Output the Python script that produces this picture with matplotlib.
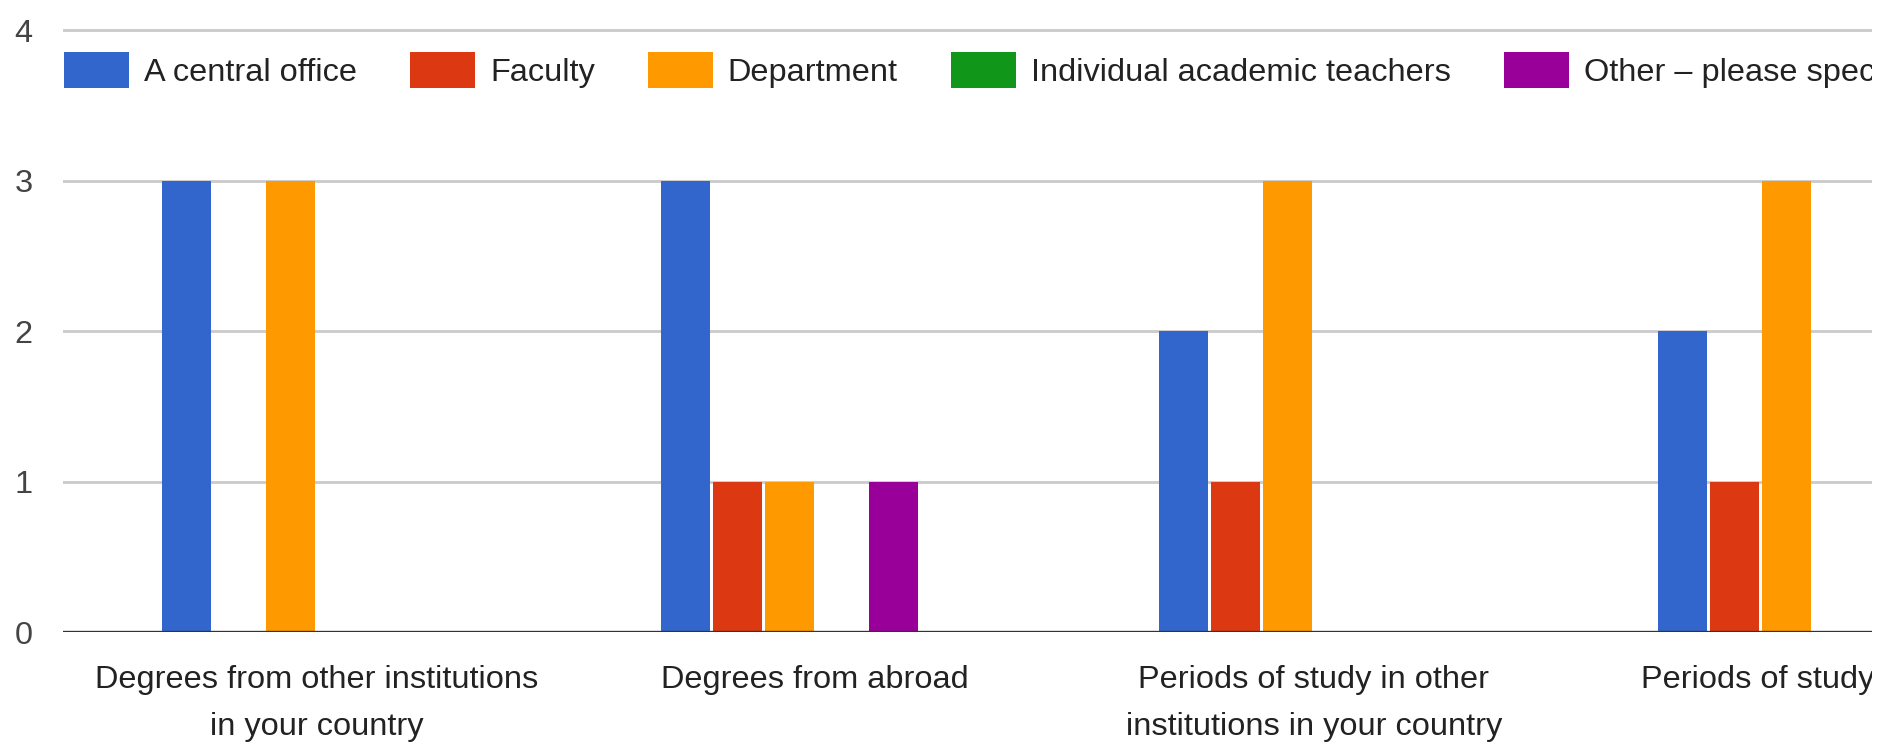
import numpy as np
import matplotlib
matplotlib.use('Agg')
import matplotlib.pyplot as plt
from matplotlib import font_manager
from matplotlib.transforms import Bbox, TransformedBbox

categories = ['Degrees from other institutions\nin your country',
              'Degrees from abroad',
              'Periods of study in other\ninstitutions in your country',
              'Periods of study abroad']
series_names = ['A central office', 'Faculty', 'Department',
                'Individual academic teachers', 'Other – please specify']
central_office = [3, 3, 2, 2]
faculty = [0, 1, 1, 1]
department = [3, 1, 3, 3]
individual_teachers = [0, 0, 0, 0]
other = [0, 1, 0, 0]
yticks = [0, 1, 2, 3, 4]

colors = ['#3366cc', '#dc3912', '#ff9900', '#109618', '#990099']
values = [central_office, faculty, department, individual_teachers, other]

# the source image is squeezed sideways, a narrow face gets closer to it
try:
    font_manager.findfont('Liberation Sans Narrow', fallback_to_default=False)
    family, fs, hh = 'Liberation Sans Narrow', 28.5, 1.02
except ValueError:
    family, fs, hh = 'Liberation Sans', 23.4, 1.33
plt.rcParams['font.family'] = [family, 'DejaVu Sans']

W, H = 1894, 747
fig = plt.figure(figsize=(W / 100, H / 100), dpi=100)
ax = fig.add_axes([63 / W, (H - 632) / H, (1872 - 63) / W, 605 / H])

group = 498.7
slot = 52 / group
bw = 49 / group
x = np.arange(len(categories))
bars = []
for i, (name, vals, c) in enumerate(zip(series_names, values, colors)):
    # six slots per group in the original chart, last one is off-image
    b = ax.bar(x + (i - 2.5) * slot, vals, width=bw, color=c, label=name, zorder=2)
    bars.append(b)

ax.set_xlim(-(316.5 - 63) / group, (1872 - 316.5) / group)
ax.set_ylim(0, 4.02)
ax.set_yticks(yticks)
ax.set_yticklabels([str(v) for v in yticks], fontsize=fs, color='#444444')
ax.tick_params(axis='y', length=0, pad=22)
ax.set_xticks([])
ax.yaxis.grid(True, color='#cccccc', linewidth=2.1)
ax.set_axisbelow(True)
ax.axhline(0, color='#333333', linewidth=2.4, zorder=3)
for s in ax.spines.values():
    s.set_visible(False)

clip = TransformedBbox(Bbox.from_extents(0, 0, 1872 / W, 1), fig.transFigure)

for xi, lab in zip(x, categories):
    t = ax.text(xi, -33 / 605, lab, transform=ax.get_xaxis_transform(),
                ha='center', va='top', fontsize=fs, color='#222222',
                linespacing=1.75, multialignment='center')
    t.set_clip_box(clip)
    t.set_clip_on(True)

leg = fig.legend(handles=bars, loc='upper left', bbox_to_anchor=(64 / W, 1 - 52 / H),
                 ncol=5, frameon=False, fontsize=fs, handlelength=65 / (fs * 1.389),
                 handleheight=hh, handletextpad=15 / (fs * 1.389),
                 columnspacing=53 / (fs * 1.389), borderpad=0, borderaxespad=0)
for t in leg.get_texts():
    t.set_color('#222222')
    t.set_clip_box(clip)
    t.set_clip_on(True)

fig.savefig('out.png', dpi=100)
